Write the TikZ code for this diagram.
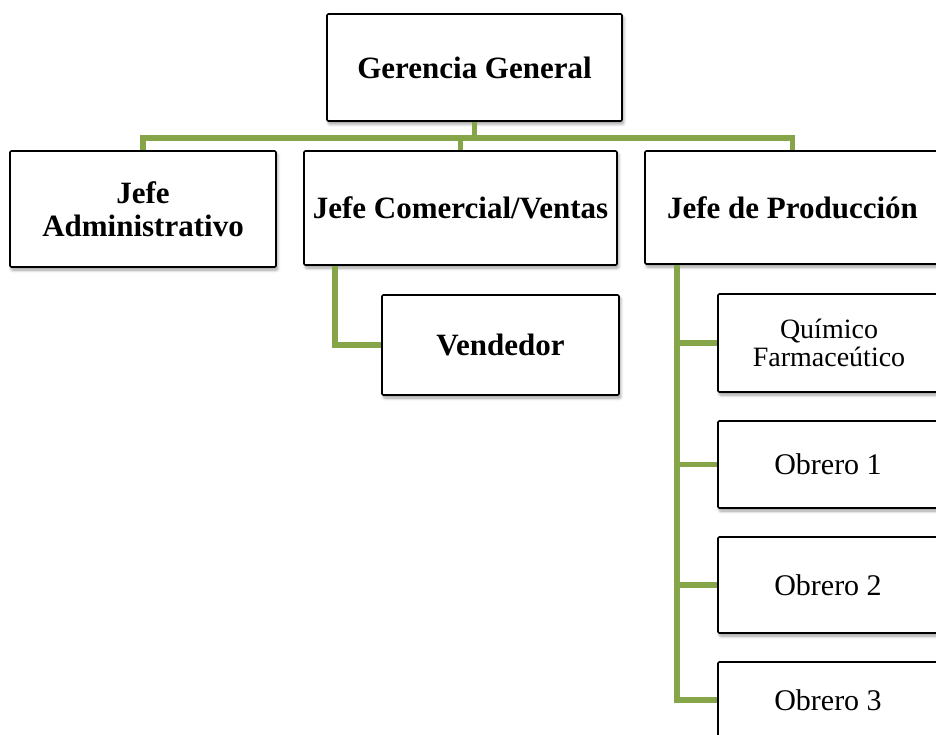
\documentclass[tikz,border=0pt]{standalone}
\usepackage{fontspec}
\setmainfont{Liberation Serif}
\usetikzlibrary{shadows.blur}
\definecolor{linegreen}{RGB}{134,164,72}
\tikzset{
  box/.style={draw=black, line width=1.6pt, fill=white, rounded corners=1.2pt, align=center,
    inner sep=0pt, blur shadow={shadow xshift=1.5pt, shadow yshift=-3pt, shadow blur steps=6, shadow blur radius=3pt, shadow opacity=40}},
  boldtxt/.style={font=\fontsize{31}{33}\selectfont\bfseries},
  regtxt/.style={font=\fontsize{30}{30}\selectfont},
  smalltxt/.style={font=\fontsize{28}{28}\selectfont},
  conn/.style={draw=linegreen, line width=5.5pt}
}
\begin{document}
\begin{tikzpicture}[x=1pt,y=-1pt]
\useasboundingbox (0,0) rectangle (936,735);
\clip (0,0) rectangle (936,735);
% nodes
\node[box, boldtxt, minimum width=295pt, minimum height=107pt] (gg) at (474.5,67.5) {Gerencia General};
\node[box, boldtxt, minimum width=266pt, minimum height=116pt] (ja) at (143,209) {Jefe\\Administrativo};
\node[box, boldtxt, minimum width=313pt, minimum height=114pt] (jc) at (460.5,208) {Jefe Comercial/Ventas};
\node[box, boldtxt, minimum width=295pt, minimum height=113pt] (jp) at (792.5,207.5) {Jefe de Producción};
\node[box, boldtxt, minimum width=237pt, minimum height=100pt] (v) at (500.5,345) {Vendedor};
\node[box, smalltxt, minimum width=222pt, minimum height=98pt] (qf) at (829,343) {Químico\\Farmaceútico};
\node[box, regtxt, minimum width=220pt, minimum height=87pt] (o1) at (828,464.5) {Obrero 1};
\node[box, regtxt, minimum width=220pt, minimum height=96pt] (o2) at (828,585) {Obrero 2};
\node[box, regtxt, minimum width=220pt, minimum height=76pt] (o3) at (828,700) {Obrero 3};
% connectors
\draw[conn] (gg.south) -- ++(0,16) coordinate (bar);
\draw[conn] (ja.north) |- (bar) -| (jp.north);
\draw[conn] (jc.north) |- (bar);
\draw[conn] ([xshift=32pt]jc.south west) |- (v.west);
\coordinate (pv) at ([xshift=33pt]jp.south west);
\draw[conn] (pv) |- (qf.west);
\draw[conn] (pv) |- (o1.west);
\draw[conn] (pv) |- (o2.west);
\draw[conn] (pv) |- (o3.west);
\end{tikzpicture}
\end{document}
